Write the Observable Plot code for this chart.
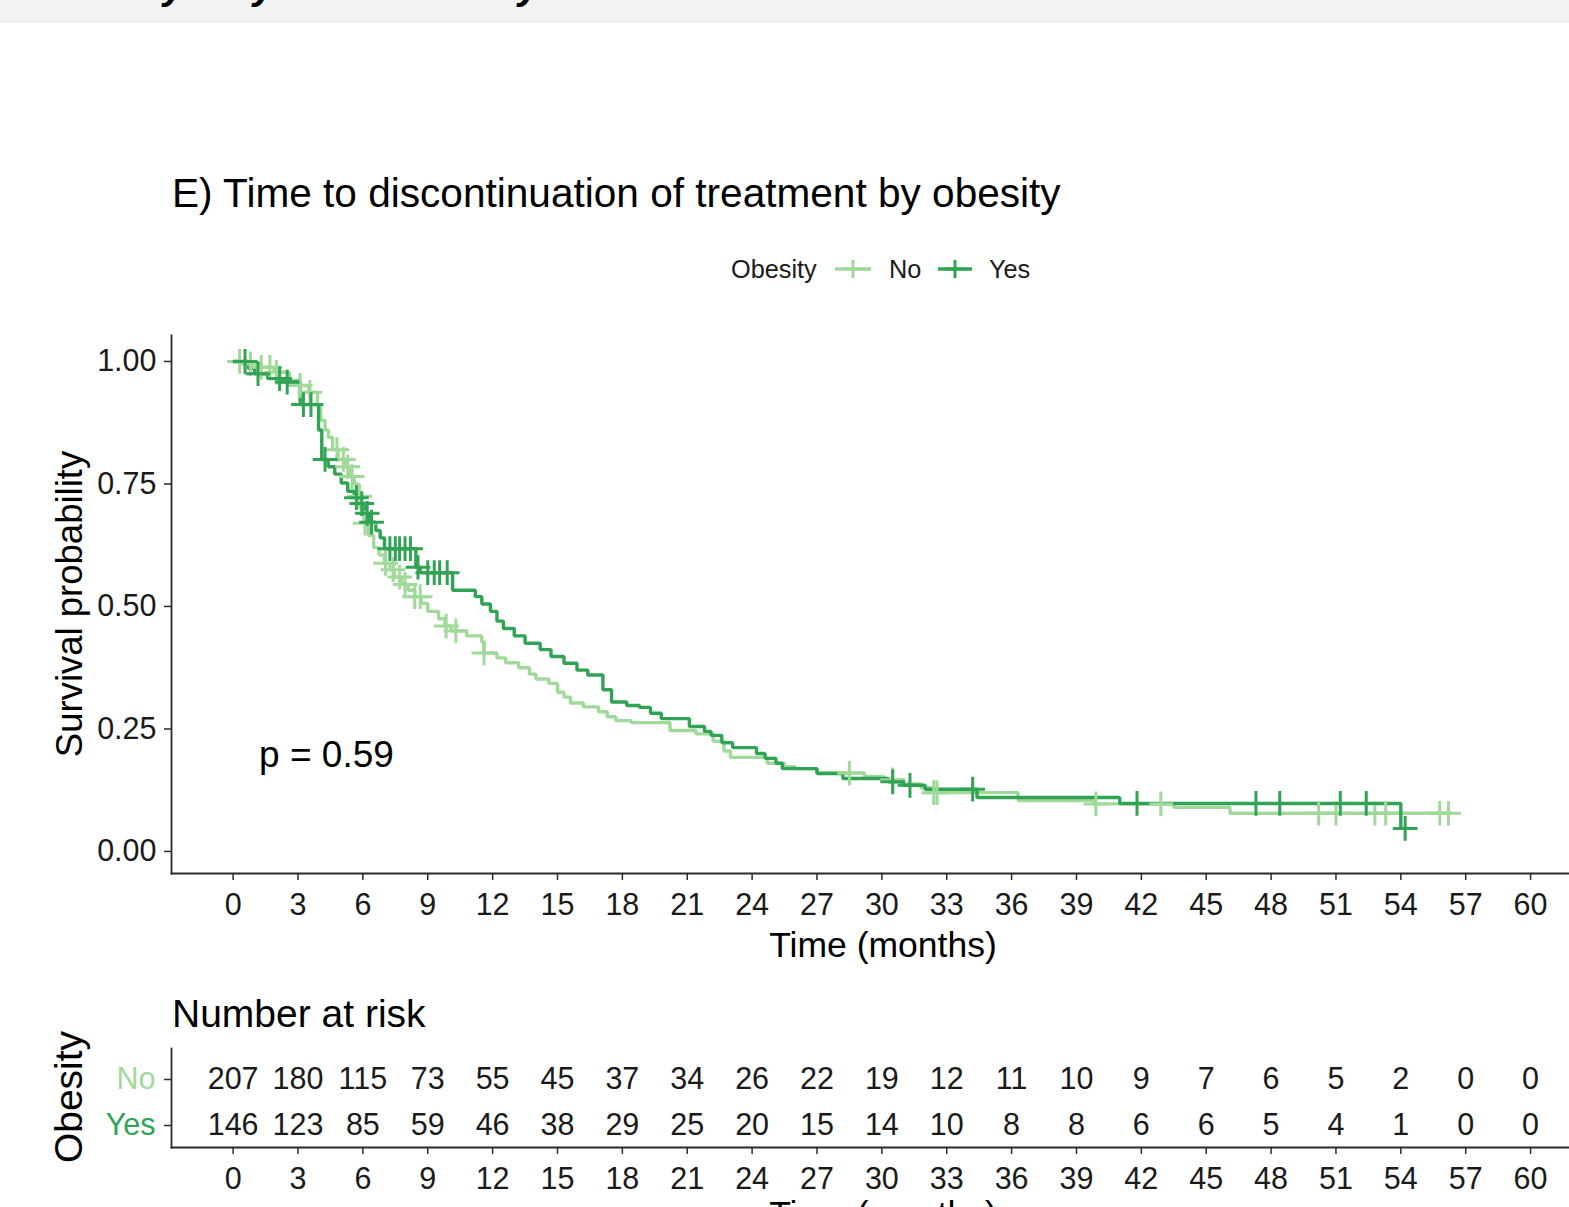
<!DOCTYPE html>
<html><head><meta charset="utf-8">
<script src="https://cdn.jsdelivr.net/npm/d3@7"></script>
<script src="https://cdn.jsdelivr.net/npm/@observablehq/plot@0.6"></script>
<style>
html,body{margin:0;padding:0;background:#fff;}
body{width:1569px;height:1207px;overflow:hidden;position:relative;font-family:"Liberation Sans",Arial,sans-serif;}
#main,#risk,#overlay,#band{position:absolute;left:0;}
#band{top:0;}
#main{top:300px;}
#risk{top:1040px;}
#overlay{top:0;pointer-events:none;}
</style></head><body>
<div id="band"></div>
<div id="main"></div>
<div id="risk"></div>
<div id="overlay"></div>
<script>
// ---------- data ----------
const groups = ["No", "Yes"];
const groupColors = ["#a1d99b", "#31a354"];

// Kaplan-Meier steps [time (months), survival]
const noCurve = [[0,1],[0.8,0.995],[1.3,0.988],[1.9,0.978],[2.6,0.962],[3.1,0.951],[3.5,0.937],[3.9,0.91],[4.05,0.88],[4.25,0.86],[4.4,0.845],[4.6,0.82],[4.85,0.80],[5.2,0.785],[5.4,0.765],[5.6,0.75],[5.8,0.725],[5.9,0.70],[6.05,0.67],[6.25,0.645],[6.5,0.62],[6.75,0.605],[7.0,0.588],[7.25,0.575],[7.45,0.56],[7.8,0.545],[8.1,0.533],[8.4,0.52],[8.7,0.506],[9.0,0.49],[9.5,0.475],[9.8,0.46],[10.1,0.45],[10.8,0.44],[11.5,0.428],[11.6,0.405],[12.2,0.395],[12.6,0.385],[13.2,0.375],[13.7,0.362],[14.0,0.352],[14.6,0.343],[15.0,0.325],[15.3,0.315],[15.6,0.303],[16.2,0.295],[16.9,0.285],[17.3,0.275],[17.7,0.267],[18.4,0.263],[20.2,0.247],[21.4,0.24],[22.2,0.225],[22.7,0.205],[23.0,0.192],[24.7,0.18],[25.5,0.173],[26.0,0.169],[27.0,0.16],[29.2,0.153],[30.1,0.146],[31.0,0.138],[31.8,0.13],[32.3,0.12],[36.3,0.104],[39.8,0.097],[43.5,0.09],[46.1,0.078],[56.3,0.078]];
const yesCurve = [[0,1],[0.7,0.986],[1.0,0.975],[1.6,0.965],[2.2,0.958],[3.1,0.912],[3.95,0.86],[4.1,0.80],[4.4,0.785],[4.7,0.77],[5.0,0.752],[5.3,0.735],[5.6,0.722],[5.9,0.71],[6.1,0.69],[6.3,0.672],[6.6,0.655],[6.8,0.64],[7.0,0.618],[8.45,0.58],[8.65,0.569],[10.15,0.533],[11.2,0.52],[11.5,0.505],[11.9,0.49],[12.2,0.47],[12.5,0.455],[13.0,0.44],[13.5,0.425],[14.2,0.412],[14.7,0.398],[15.3,0.384],[15.9,0.37],[16.4,0.36],[17.1,0.33],[17.5,0.305],[18.2,0.298],[18.8,0.294],[19.3,0.282],[19.8,0.271],[21.1,0.255],[21.8,0.245],[22.1,0.237],[22.6,0.222],[23.1,0.212],[24.2,0.2],[24.6,0.19],[25.1,0.18],[25.4,0.169],[27.0,0.159],[28.2,0.149],[30.3,0.142],[31.0,0.135],[32.0,0.127],[34.4,0.11],[41.0,0.098],[54.0,0.047],[54.2,0.047]];

// censoring times (months)
const noCensorTimes = [0.3,0.8,1.3,1.7,2.0,3.1,3.55,4.8,5.1,5.3,5.5,5.85,6.1,7.05,7.4,7.7,7.95,8.4,8.65,9.85,10.3,11.6,28.5,30.5,32.4,32.55,39.9,42.9,50.2,51.0,52.8,53.3,55.8,56.2];
const yesCensorTimes = [0.55,1.15,2.15,2.5,3.25,3.6,4.25,5.7,5.95,6.2,6.4,7.25,7.5,7.7,7.95,8.2,8.55,9.0,9.3,9.55,9.9,30.5,31.3,34.2,41.8,47.3,48.4,51.2,52.4,54.2];

// number at risk
const riskTimes = [0,3,6,9,12,15,18,21,24,27,30,33,36,39,42,45,48,51,54,57,60];
const riskNo  = [207,180,115,73,55,45,37,34,26,22,19,12,11,10,9,7,6,5,2,0,0];
const riskYes = [146,123,85,59,46,38,29,25,20,15,14,10,8,8,6,6,5,4,1,0,0];

const xTicks = riskTimes;
const yTicks = [0, 0.25, 0.5, 0.75, 1];
const pText = "p = 0.59";
const pTime = 1.2, pSurv = 0.196;

const titleText = "E) Time to discontinuation of treatment by obesity";
const legendTitle = "Obesity";
const yTitle = "Survival probability";
const xTitle = "Time (months)";
const riskTitle = "Number at risk";
const riskYTitle = "Obesity";

// ---------- helpers ----------
const FONT = "Liberation Sans, Arial, sans-serif";
const xDomain = [-2.85, 61.8];
const yDomain = [-0.045, 1.053];
const survAt = (curve, t) => { let s = curve[0][1]; for (const [ti, si] of curve) { if (ti <= t) s = si; else break; } return s; };
const toRows = c => c.map(([t, s]) => ({t, s}));
const cens = (curve, times) => times.map(t => ({t, s: survAt(curve, t)}));

// ---------- top band (cropped heading) ----------
{
  const ns = "http://www.w3.org/2000/svg";
  const svg = document.createElementNS(ns, "svg");
  svg.setAttribute("width", 1569); svg.setAttribute("height", 23);
  svg.innerHTML = `<rect width="1569" height="23" fill="#f2f2f2"/>` +
    [163, 253, 518].map(x => `<text x="${x}" y="-1" font-family="${FONT}" font-size="40" font-weight="bold" font-style="italic" fill="#000">y</text>`).join("");
  document.getElementById("band").appendChild(svg);
}

// ---------- main KM plot ----------
const axisStroke = "#2b2b2b";
const lineW = 3.4, censR = 8, censW = 3;
const main = Plot.plot({
  width: 1569, height: 680,
  marginTop: 35, marginBottom: 107, marginLeft: 171, marginRight: 0,
  style: {fontFamily: FONT, fontSize: "30.5px", color: "#1a1a1a", background: "transparent", overflow: "visible"},
  x: {domain: xDomain, label: null},
  y: {domain: yDomain, label: null},
  marks: [
    Plot.axisX(xTicks, {tickSize: 7, tickPadding: 13, stroke: axisStroke, strokeWidth: 1.5, fill: "#1a1a1a", label: null}),
    Plot.axisY(yTicks, {tickSize: 7, tickPadding: 8, tickFormat: d3.format(".2f"), stroke: axisStroke, strokeWidth: 1.5, fill: "#1a1a1a", label: null}),
    Plot.frame({anchor: "left", stroke: axisStroke, strokeWidth: 1.8}),
    Plot.frame({anchor: "bottom", stroke: axisStroke, strokeWidth: 1.8}),
    Plot.line(toRows(noCurve), {x: "t", y: "s", curve: "step-after", stroke: groupColors[0], strokeWidth: lineW, strokeLinejoin: "miter", strokeLinecap: "butt"}),
    Plot.line(toRows(yesCurve), {x: "t", y: "s", curve: "step-after", stroke: groupColors[1], strokeWidth: lineW, strokeLinejoin: "miter", strokeLinecap: "butt"}),
    Plot.dot(cens(noCurve, noCensorTimes), {x: "t", y: "s", symbol: "plus", r: censR, stroke: groupColors[0], strokeWidth: censW}),
    Plot.dot(cens(yesCurve, yesCensorTimes), {x: "t", y: "s", symbol: "plus", r: censR, stroke: groupColors[1], strokeWidth: censW}),
    Plot.text([{t: pTime, s: pSurv, label: pText}], {x: "t", y: "s", text: "label", textAnchor: "start", fontSize: 37, fill: "#000"})
  ]
});
document.getElementById("main").appendChild(main);

// ---------- risk table ----------
const riskRows = [];
riskTimes.forEach((t, i) => { riskRows.push({t, g: groups[0], n: riskNo[i]}); riskRows.push({t, g: groups[1], n: riskYes[i]}); });
const risk = Plot.plot({
  width: 1569, height: 167,
  marginTop: 8, marginBottom: 60, marginLeft: 171, marginRight: 0,
  style: {fontFamily: FONT, fontSize: "30.5px", color: "#1a1a1a", background: "transparent", overflow: "visible"},
  x: {domain: xDomain, label: null},
  y: {type: "point", domain: groups, range: [39, 85], padding: 0, label: null},
  marks: [
    Plot.axisX(xTicks, {tickSize: 7, tickPadding: 13, stroke: axisStroke, strokeWidth: 1.5, fill: "#1a1a1a", label: null}),
    Plot.axisY(groups, {tickSize: 7, stroke: axisStroke, strokeWidth: 1.5, fill: "none", label: null}),
    Plot.frame({anchor: "left", stroke: axisStroke, strokeWidth: 1.8}),
    Plot.frame({anchor: "bottom", stroke: axisStroke, strokeWidth: 1.8}),
    ...groups.map((g, i) => Plot.text([g], {frameAnchor: "left", y: d => d, text: d => d, textAnchor: "end", dx: -16, fontSize: 30.5, fill: groupColors[i]})),
    Plot.text(riskRows, {x: "t", y: "g", text: d => String(d.n), fontSize: 30.5, fill: "#1a1a1a"})
  ]
});
document.getElementById("risk").appendChild(risk);

// ---------- overlay texts & legend ----------
{
  const ns = "http://www.w3.org/2000/svg";
  const svg = document.createElementNS(ns, "svg");
  svg.setAttribute("width", 1569); svg.setAttribute("height", 1207);
  svg.setAttribute("font-family", FONT);
  const keyMarkup = (x1, x2, y, c) => {
    const cx = (x1 + x2) / 2;
    return `<line x1="${x1}" x2="${x2}" y1="${y}" y2="${y}" stroke="${c}" stroke-width="3.4"/>` +
      `<path d="M${cx-9},${y}H${cx+9}M${cx},${y-9}V${y+9}" stroke="${c}" stroke-width="3" fill="none"/>`;
  };
  svg.innerHTML =
    `<text x="172" y="207" font-size="40.6" fill="#000">${titleText}</text>` +
    `<text x="731" y="278" font-size="25.3" fill="#1a1a1a">${legendTitle}</text>` +
    keyMarkup(835, 871, 269, groupColors[0]) +
    `<text x="889" y="278" font-size="25.3" fill="#1a1a1a">${groups[0]}</text>` +
    keyMarkup(938, 972, 269, groupColors[1]) +
    `<text x="989" y="278" font-size="25.3" fill="#1a1a1a">${groups[1]}</text>` +
    `<text transform="translate(82,604) rotate(-90)" text-anchor="middle" font-size="36.5" fill="#000">${yTitle}</text>` +
    `<text x="883" y="957" text-anchor="middle" font-size="35.5" fill="#000">${xTitle}</text>` +
    `<text x="172" y="1027" font-size="39" fill="#000">${riskTitle}</text>` +
    `<text transform="translate(82,1097) rotate(-90)" text-anchor="middle" font-size="39" fill="#000">${riskYTitle}</text>` +
    `<text x="883" y="1226" text-anchor="middle" font-size="35.5" fill="#000">${xTitle}</text>`;
  document.getElementById("overlay").appendChild(svg);
}
</script>
</body></html>
